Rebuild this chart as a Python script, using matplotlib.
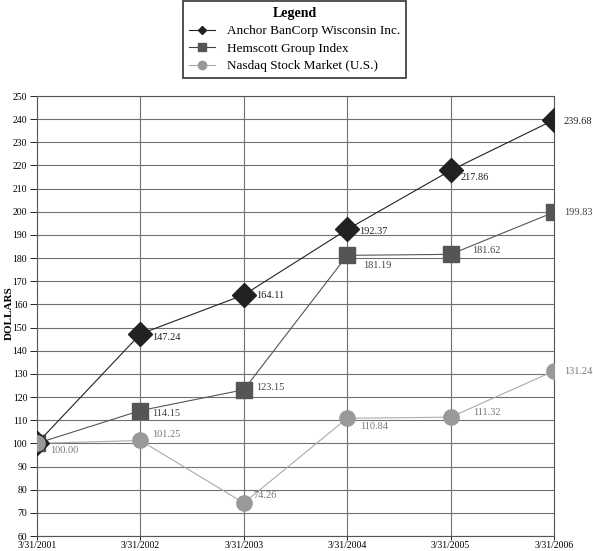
import matplotlib
matplotlib.use("Agg")
import matplotlib.pyplot as plt
from matplotlib.lines import Line2D

plt.rcParams['font.family'] = ['Liberation Serif', 'DejaVu Serif']

dates = ["3/31/2001", "3/31/2002", "3/31/2003", "3/31/2004", "3/31/2005", "3/31/2006"]
anchor = [100.00, 147.24, 164.11, 192.37, 217.86, 239.68]
hemscott = [100.00, 114.15, 123.15, 181.19, 181.62, 199.83]
nasdaq = [100.00, 101.25, 74.26, 110.84, 111.32, 131.24]
series_names = ["Anchor BanCorp Wisconsin Inc.", "Hemscott Group Index", "Nasdaq Stock Market (U.S.)"]
yticks = list(range(60, 251, 10))

fig = plt.figure(figsize=(5.93, 5.51), dpi=100)
ax = fig.add_axes([37/593, 1-536/551, (554-37)/593, (536-96)/551])

x = list(range(len(dates)))
ax.set_xlim(0, len(dates)-1)
ax.set_ylim(60, 250)
ax.set_yticks(yticks)
ax.set_xticks(x)
ax.set_xticklabels(dates, fontsize=7)
ax.tick_params(axis='y', labelsize=7, length=5, width=0.6, pad=2)
ax.tick_params(axis='x', length=3, width=0.6, pad=0.5)
ax.grid(True, color='#707070', linewidth=0.8)
ax.set_axisbelow(True)
for s in ax.spines.values():
    s.set_color('#555555')
    s.set_linewidth(0.8)

ax.plot(x, nasdaq, color='#aaaaaa', lw=0.8, marker='o', ms=11, mfc='#999999', mec='#999999', zorder=3)
ax.plot(x, hemscott, color='#555555', lw=0.8, marker='s', ms=11, mfc='#555555', mec='#555555', zorder=4)
ax.plot(x, anchor, color='#222222', lw=0.8, marker='D', ms=12, mfc='#222222', mec='#222222', zorder=5)
# Nasdaq marker drawn on top at the shared starting point
ax.plot([x[0]], [nasdaq[0]], marker='o', ms=11, mfc='#999999', mec='#999999', ls='none', zorder=6)

ax.set_ylabel("DOLLARS", fontsize=8, fontweight='bold')
ax.yaxis.set_label_coords((14 - 37) / 517, (536 - 313) / 440)

k = 0.72
def lab(vals, offsets, color, skip_first=False):
    for i, (xi, v, off) in enumerate(zip(x, vals, offsets)):
        if skip_first and i == 0:
            continue
        ax.annotate(f"{v:.2f}", (xi, v), xytext=(off[0]*k, off[1]*k), textcoords='offset points',
                    fontsize=7.5, color=color, va='center', ha='left', zorder=7)

lab(anchor, [(13, -7), (12, -4), (12, -1), (12, -2), (10, -7), (10, -2)], '#222222', skip_first=True)
lab(hemscott, [(13, -7), (12, -3), (12, 2), (16, -10), (22, 4), (10, 0)], '#444444', skip_first=True)
lab(nasdaq, [(13, -7), (12, 6), (10, 7), (13, -8), (23, 5), (10, 0)], '#777777')

handles = [
    Line2D([0], [0], color='#222222', lw=0.8, marker='D', ms=4, mfc='#222222', mec='#222222'),
    Line2D([0], [0], color='#444444', lw=0.8, marker='s', ms=6, mfc='#555555', mec='#555555'),
    Line2D([0], [0], color='#aaaaaa', lw=0.8, marker='o', ms=6, mfc='#999999', mec='#999999'),
]
leg = fig.legend(handles, series_names, loc='upper left', bbox_to_anchor=(183/593, 1-1/551),
                 title="Legend", title_fontproperties={'weight': 'bold', 'size': 10},
                 fontsize=9.5, frameon=True, fancybox=False, edgecolor='black',
                 handlelength=2.0, handletextpad=0.9, borderpad=0.45, labelspacing=0.4,
                 borderaxespad=0)
leg.get_frame().set_linewidth(1.2)

fig.savefig("out.png", dpi=100)
